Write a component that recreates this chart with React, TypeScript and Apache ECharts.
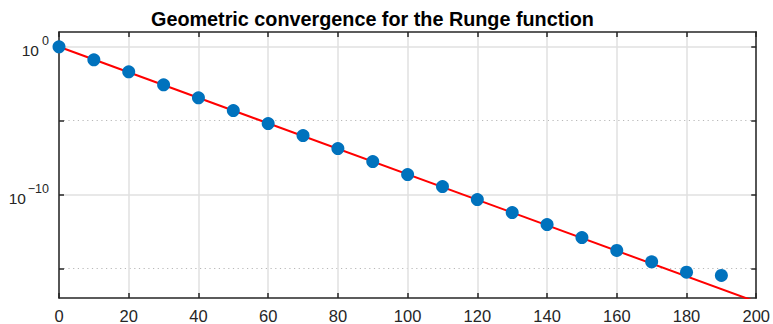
import React, { useEffect, useRef } from "react";
import * as echarts from "echarts";

// Polynomial degree n and the measured max-norm error of the Chebyshev interpolant
const degrees = [0, 10, 20, 30, 40, 50, 60, 70, 80, 90, 100, 110, 120, 130, 140, 150, 160, 170, 180, 190];
const errors = [
  1, 1.32e-1, 2.04e-2, 2.69e-3, 3.55e-4, 4.79e-5, 6.31e-6, 9.77e-7, 1.29e-7, 1.7e-8,
  2.24e-9, 3.47e-10, 4.57e-11, 6.03e-12, 9.33e-13, 1.23e-13, 1.66e-14, 2.82e-15, 5.62e-16, 3.39e-16,
];

// Predicted rate rho^-n, drawn as a straight line between its end points
const rateX = [0, 200];
const rateY = [1, 5.5e-18];

// Axis ticks
const xTicks = [0, 20, 40, 60, 80, 100, 120, 140, 160, 180, 200];
const yTicks = [1e-15, 1e-10, 1e-5, 1];
const yMajor = [1e-10, 1];
const yMinor = [1e-15, 1e-5];

const AXIS = "#262626";
const FONT = "'Liberation Sans', Arial, Helvetica, sans-serif";
const BASE_SIZE = 15.5;
const SUP_SIZE = 12.5;

const exponentOf = (v: number) => String(Math.round(Math.log10(v))).replace("-", "\u2212");

export default function App() {
  const ref = useRef<HTMLDivElement>(null);

  useEffect(() => {
    if (!ref.current) return;
    const chart = echarts.init(ref.current, undefined, { renderer: "svg" });

    const xAxisBase = {
      type: "value" as const,
      min: xTicks[0],
      max: xTicks[xTicks.length - 1],
      interval: 20,
      axisLine: { show: true, onZero: false, lineStyle: { color: AXIS, width: 1.5 } },
      axisTick: { show: true, inside: true, length: 5, lineStyle: { color: AXIS, width: 1.5 } },
    };
    const yScale = { type: "log" as const, logBase: 10, min: 1e-17, max: 10 };
    const yFrame = {
      ...yScale,
      axisLine: { show: true, onZero: false, lineStyle: { color: AXIS, width: 1.5 } },
      axisTick: {
        show: true,
        inside: true,
        length: 5,
        customValues: yTicks,
        lineStyle: { color: AXIS, width: 1.5 },
      },
      axisLabel: { show: false },
      splitLine: { show: false },
    };
    // Axes that only carry horizontal grid lines
    const yGrid = (values: number[], lineStyle: any) => ({
      ...yScale,
      position: "left" as const,
      axisLine: { show: false },
      axisTick: { show: false, customValues: values },
      axisLabel: { show: false, customValues: values },
      splitLine: { show: true, lineStyle },
    });
    // Axes that only carry tick labels (the "10" base and its exponent are set apart)
    const yText = (values: number[], label: any) => ({
      ...yScale,
      position: "left" as const,
      axisLine: { show: false },
      axisTick: { show: false, customValues: values },
      splitLine: { show: false },
      axisLabel: {
        show: true,
        customValues: values,
        color: AXIS,
        fontFamily: FONT,
        align: "right",
        ...label,
      },
    });

    chart.setOption({
      animation: false,
      title: {
        text: "Geometric convergence for the Runge function",
        left: 146,
        top: 4,
        textStyle: { fontSize: 19.8, fontWeight: "bold", color: "#000", fontFamily: FONT },
      },
      grid: { left: 59, right: 10, top: 32, bottom: 26, containLabel: false },
      xAxis: [
        {
          ...xAxisBase,
          position: "bottom",
          axisLabel: { show: true, color: AXIS, fontSize: 16.5, fontFamily: FONT, margin: 9 },
          splitLine: { show: true, lineStyle: { color: "#e0e0e0", width: 1.5 } },
        },
        {
          ...xAxisBase,
          position: "top",
          axisLabel: { show: false },
          splitLine: { show: false },
        },
      ],
      yAxis: [
        { ...yFrame, position: "left" },
        { ...yFrame, position: "right" },
        yGrid(yMajor, { color: "#e0e0e0", width: 1.5, type: "solid" }),
        yGrid(yMinor, { color: "#b8b8b8", width: 1.2, type: [1.2, 3.5] }),
        yText([yMajor[0]], {
          formatter: () => "10",
          fontSize: BASE_SIZE,
          margin: 33,
          verticalAlign: "top",
          lineHeight: 7.5,
        }),
        yText([yMajor[1]], {
          formatter: () => "10",
          fontSize: BASE_SIZE,
          margin: 20,
          verticalAlign: "top",
          lineHeight: 7.5,
        }),
        yText(yMajor, {
          formatter: exponentOf,
          fontSize: SUP_SIZE,
          margin: 10,
          verticalAlign: "bottom",
          lineHeight: 12,
        }),
      ],
      series: [
        {
          type: "line",
          name: "rate",
          data: rateX.map((x, i) => [x, rateY[i]]),
          showSymbol: false,
          clip: true,
          z: 2,
          lineStyle: { color: "#ff0000", width: 2 },
          itemStyle: { color: "#ff0000" },
        },
        {
          type: "scatter",
          name: "error",
          data: degrees.map((d, i) => [d, errors[i]]),
          symbol: "circle",
          symbolSize: 13,
          z: 3,
          itemStyle: { color: "#0072bd", opacity: 1 },
        },
      ],
    });

    return () => chart.dispose();
  }, []);

  return (
    <div
      ref={ref}
      style={{ position: "fixed", left: 0, top: 0, width: 773, height: 324, background: "#fff" }}
    />
  );
}
